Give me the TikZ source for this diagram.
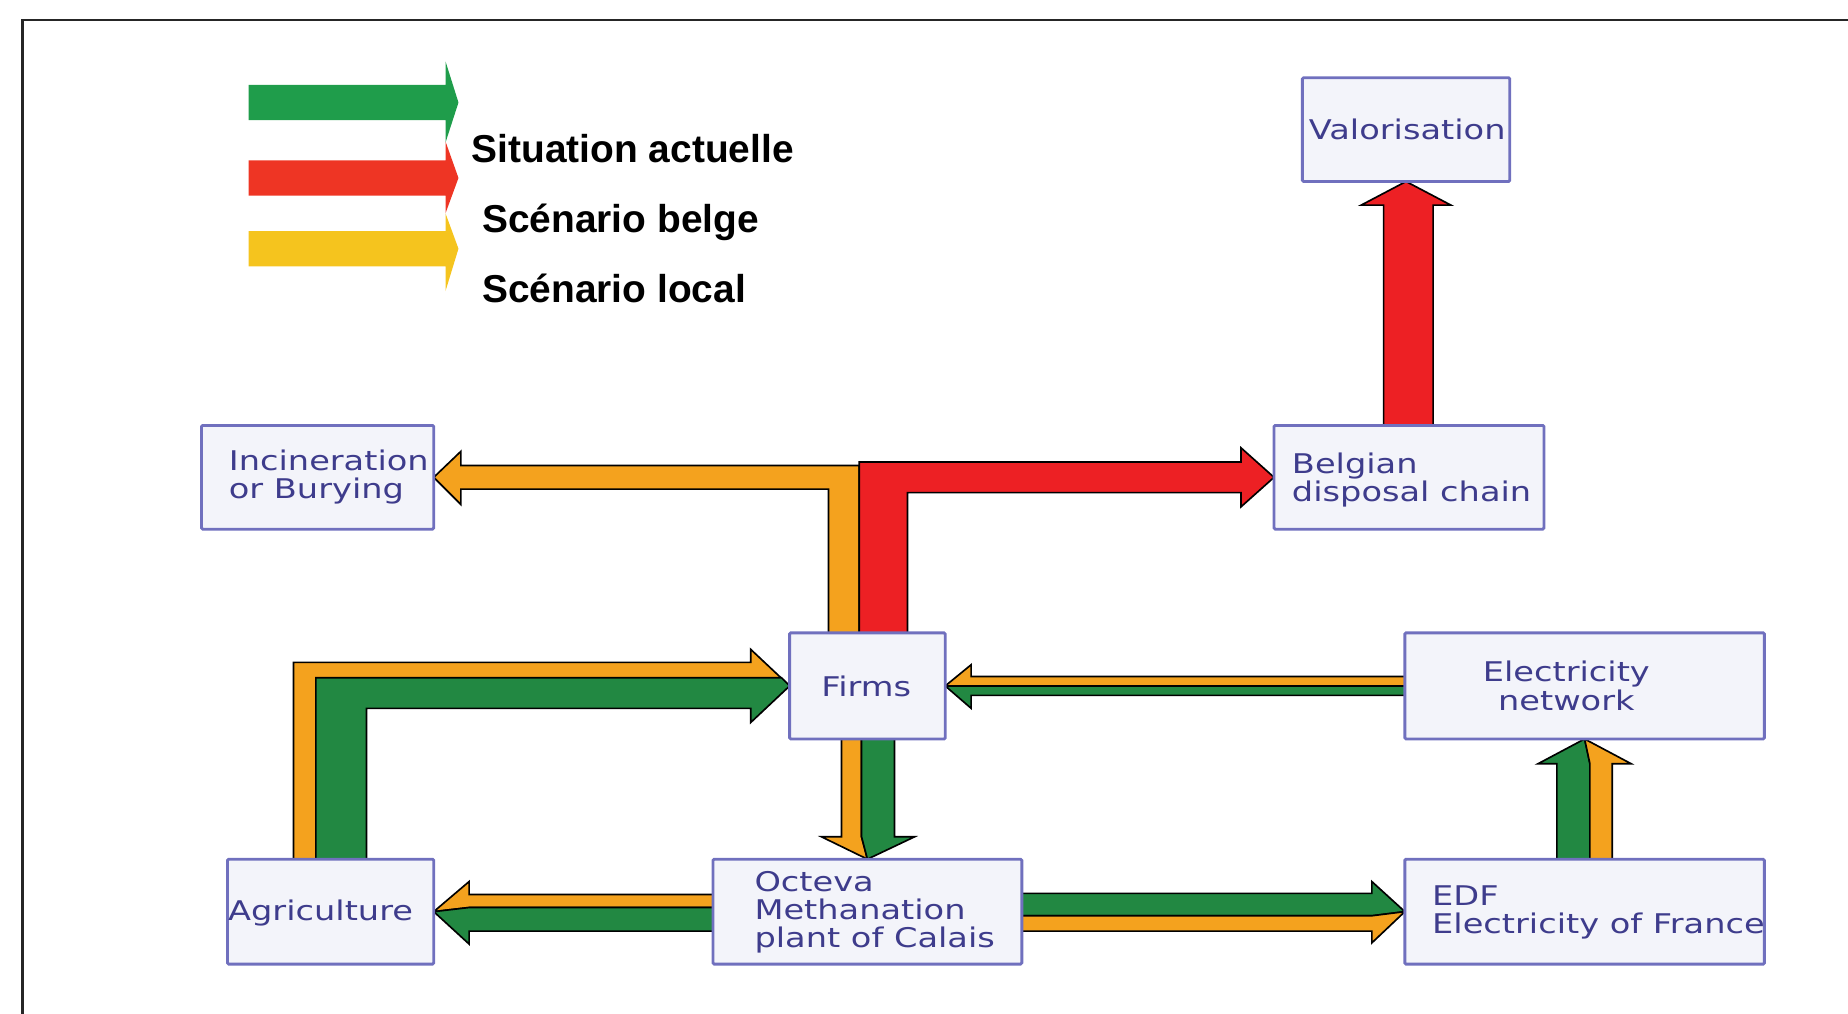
\documentclass[tikz,border=0pt]{standalone}
\usepackage{fontspec}
\setmainfont{Liberation Sans}
\newfontfamily\boxfont[FakeStretch=1.24]{DejaVu Sans}
\usetikzlibrary{backgrounds,calc}
\definecolor{boxline}{RGB}{112,112,190}
\definecolor{boxfill}{RGB}{243,244,250}
\definecolor{boxtext}{RGB}{62,60,140}
\definecolor{aorange}{RGB}{244,162,30}
\definecolor{agreen}{RGB}{34,136,66}
\definecolor{ared}{RGB}{237,32,36}
\definecolor{lgreen}{RGB}{31,157,75}
\definecolor{lred}{RGB}{238,53,36}
\definecolor{lyellow}{RGB}{245,196,30}
\begin{document}
\begin{tikzpicture}[x=1pt,y=-1pt,
  box/.style={draw=boxline, fill=boxfill, line width=2.4pt, outer sep=0pt, inner sep=0pt, rounded corners=1pt},
  txt/.style={text=boxtext, font=\boxfont\fontsize{23}{24}\selectfont, inner sep=0pt, align=left},
  flow/.style={draw=black, line width=1.4pt, line join=miter},
  leg/.style={font=\bfseries\fontsize{33}{36}\selectfont, inner sep=0pt, anchor=base west}]

\useasboundingbox (0,0) rectangle (1568,860);

% frame
\draw[line width=2pt, black!85] (19,860) -- (19,17) -- (1568,17);

% legend
\fill[lgreen] (211,72) -- (378,72) -- (378,52) -- (389,87) -- (378,121) -- (378,102) -- (211,102) -- cycle;
\fill[lred] (211,136) -- (378,136) -- (378,120) -- (389,151) -- (378,181) -- (378,166) -- (211,166) -- cycle;
\fill[lyellow] (211,196) -- (378,196) -- (378,181) -- (389,211) -- (378,247) -- (378,226) -- (211,226) -- cycle;
\node[leg] (leg1) at (400,138) {Situation actuelle};
\node[leg] (leg2) at (409,197) {Scénario belge};
\node[leg] (leg3) at (409,257) {Scénario local};

% boxes
\node[box, minimum width=176pt, minimum height=88pt] (valor) at (1193,110) {};
\node[box, minimum width=197pt, minimum height=88pt] (incin) at (269.5,405) {};
\node[box, minimum width=229pt, minimum height=88pt] (belg) at (1195.5,405) {};
\node[box, minimum width=132pt, minimum height=90pt] (firms) at (736,582) {};
\node[box, minimum width=305pt, minimum height=90pt] (elec) at (1344.5,582) {};
\node[box, minimum width=175pt, minimum height=89pt] (agri) at (280.5,773.5) {};
\node[box, minimum width=262pt, minimum height=89pt] (octeva) at (736,773.5) {};
\node[box, minimum width=305pt, minimum height=89pt] (edf) at (1344.5,773.5) {};

% box texts
\node[txt] (valorT) at (1194,110) {Valorisation};
\node[txt, anchor=west] (incinT) at (194,405) {Incineration\\or Burying};
\node[txt, anchor=west] (belgT) at (1096,407) {Belgian\\disposal chain};
\node[txt] (firmsT) at (735,582) {Firms};
\node[txt, align=center] (elecT) at (1329,582) {Electricity\\network};
\node[txt] (agriT) at (272,775) {Agriculture};
\node[txt, anchor=west] (octT) at (640,774) {Octeva\\Methanation\\plant of Calais};
\node[txt, anchor=west] (edfT) at (1215,774) {EDF\\Electricity of France};

\begin{pgfonlayer}{background}
% Firms -> Incineration (orange)
\draw[flow, fill=aorange] (703,0 |- firms.north) -- (703,415) -- (391,415) -- (391,428) -- (incin.east) -- (391,383) -- (391,395) -- (729,395) -- (729,0 |- firms.north) -- cycle;
% Firms -> Belgian (red)
\draw[flow, fill=ared] (729,0 |- firms.north) -- (729,392) -- (1053,392) -- (1053,380) -- (belg.west) -- (1053,430) -- (1053,418) -- (770,418) -- (770,0 |- firms.north) -- cycle;
% Belgian -> Valorisation (red)
\draw[flow, fill=ared] (1174,0 |- belg.north) -- (1174,174) -- (1155,174) -- (valor.south) -- (1231,174) -- (1216,174) -- (1216,0 |- belg.north) -- cycle;
% Agriculture -> Firms
\draw[flow, fill=aorange] (249,0 |- agri.north) -- (249,562) -- (637,562) -- (637,551) -- (firms.west) -- (637,600) -- (268,600) -- (268,0 |- agri.north) -- cycle;
\draw[flow, fill=agreen] (268,0 |- agri.north) -- (268,575) -- (663,575) -- (firms.west) -- (637,613) -- (637,601) -- (311,601) -- (311,0 |- agri.north) -- cycle;
% Firms -> Octeva
\draw[flow, fill=aorange] (714,0 |- firms.south) -- (714,710) -- (697,710) -- (octeva.north) -- (731,710) -- (731,0 |- firms.south) -- cycle;
\draw[flow, fill=agreen] (731,0 |- firms.south) -- (731,710) -- (octeva.north) -- (776,710) -- (759,710) -- (759,0 |- firms.south) -- cycle;
% Electricity network -> Firms
\draw[flow, fill=aorange] (elec.west |- 0,574) -- (824,574) -- (824,564) -- (firms.east) -- (elec.west |- firms.east) -- cycle;
\draw[flow, fill=agreen] (elec.west |- firms.east) -- (firms.east) -- (824,601) -- (824,590) -- (elec.west |- 0,590) -- cycle;
% Octeva -> Agriculture
\draw[flow, fill=aorange] (octeva.west |- 0,759) -- (398,759) -- (398,748) -- (agri.east) -- (398,770) -- (octeva.west |- 0,770) -- cycle;
\draw[flow, fill=agreen] (octeva.west |- 0,770) -- (398,770) -- (agri.east) -- (398,801) -- (398,790) -- (octeva.west |- 0,790) -- cycle;
% Octeva -> EDF
\draw[flow, fill=agreen] (octeva.east |- 0,758) -- (1164,758) -- (1164,748) -- (edf.west) -- (1164,777) -- (octeva.east |- 0,777) -- cycle;
\draw[flow, fill=aorange] (octeva.east |- 0,777) -- (1164,777) -- (edf.west) -- (1164,800) -- (1164,790) -- (octeva.east |- 0,790) -- cycle;
% EDF -> Electricity network
\draw[flow, fill=agreen] (1321,0 |- edf.north) -- (1321,648) -- (1305,648) -- (elec.south) -- (1349,648) -- (1349,0 |- edf.north) -- cycle;
\draw[flow, fill=aorange] (1349,0 |- edf.north) -- (1349,648) -- (elec.south) -- (1384,648) -- (1368,648) -- (1368,0 |- edf.north) -- cycle;
\end{pgfonlayer}
\end{tikzpicture}
\end{document}
